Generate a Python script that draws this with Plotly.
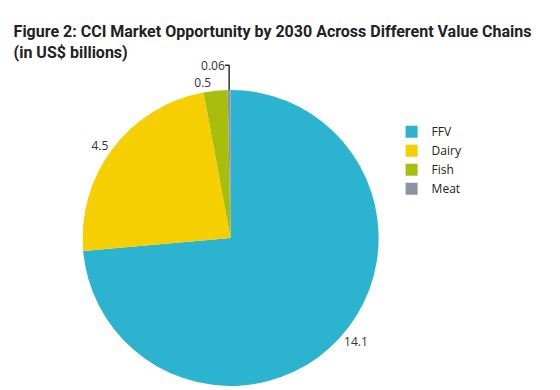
import plotly.graph_objects as go

categories = ["FFV", "Dairy", "Fish", "Meat"]
values = [14.1, 4.5, 0.5, 0.06]
labels_text = ["14.1", "4.5", "0.5", "0.06"]
colors = ["#2BB3CF", "#F6CF02", "#A8BE0C", "#8C93A6"]

fig = go.Figure(go.Pie(
    labels=categories,
    values=values,
    text=labels_text,
    texttemplate="%{text}",
    textposition="outside",
    textfont=dict(size=12, color="#333333", family="Open Sans"),
    marker=dict(colors=colors, line=dict(width=0)),
    sort=False,
    direction="clockwise",
    rotation=0,
    hole=0,
    domain=dict(x=[0.0875, 0.7075], y=[0.031, 0.79]),
    showlegend=True,
))

fig.update_layout(
    width=560, height=390,
    margin=dict(l=0, r=0, t=0, b=0),
    paper_bgcolor="white",
    title=dict(
        text="<b>Figure 2: CCI Market Opportunity by 2030 Across Different Value Chains<br>(in US$ billions)</b>",
        x=0.01, xanchor="left", y=0.925, yanchor="top",
        font=dict(size=16, color="#222222", family="Roboto"),
    ),
    legend=dict(
        x=0.685, y=0.72, xanchor="left", yanchor="top",
        font=dict(size=12, color="#222222", family="Open Sans"),
        itemsizing="constant",
    ),
)

fig.write_html("out.html")
